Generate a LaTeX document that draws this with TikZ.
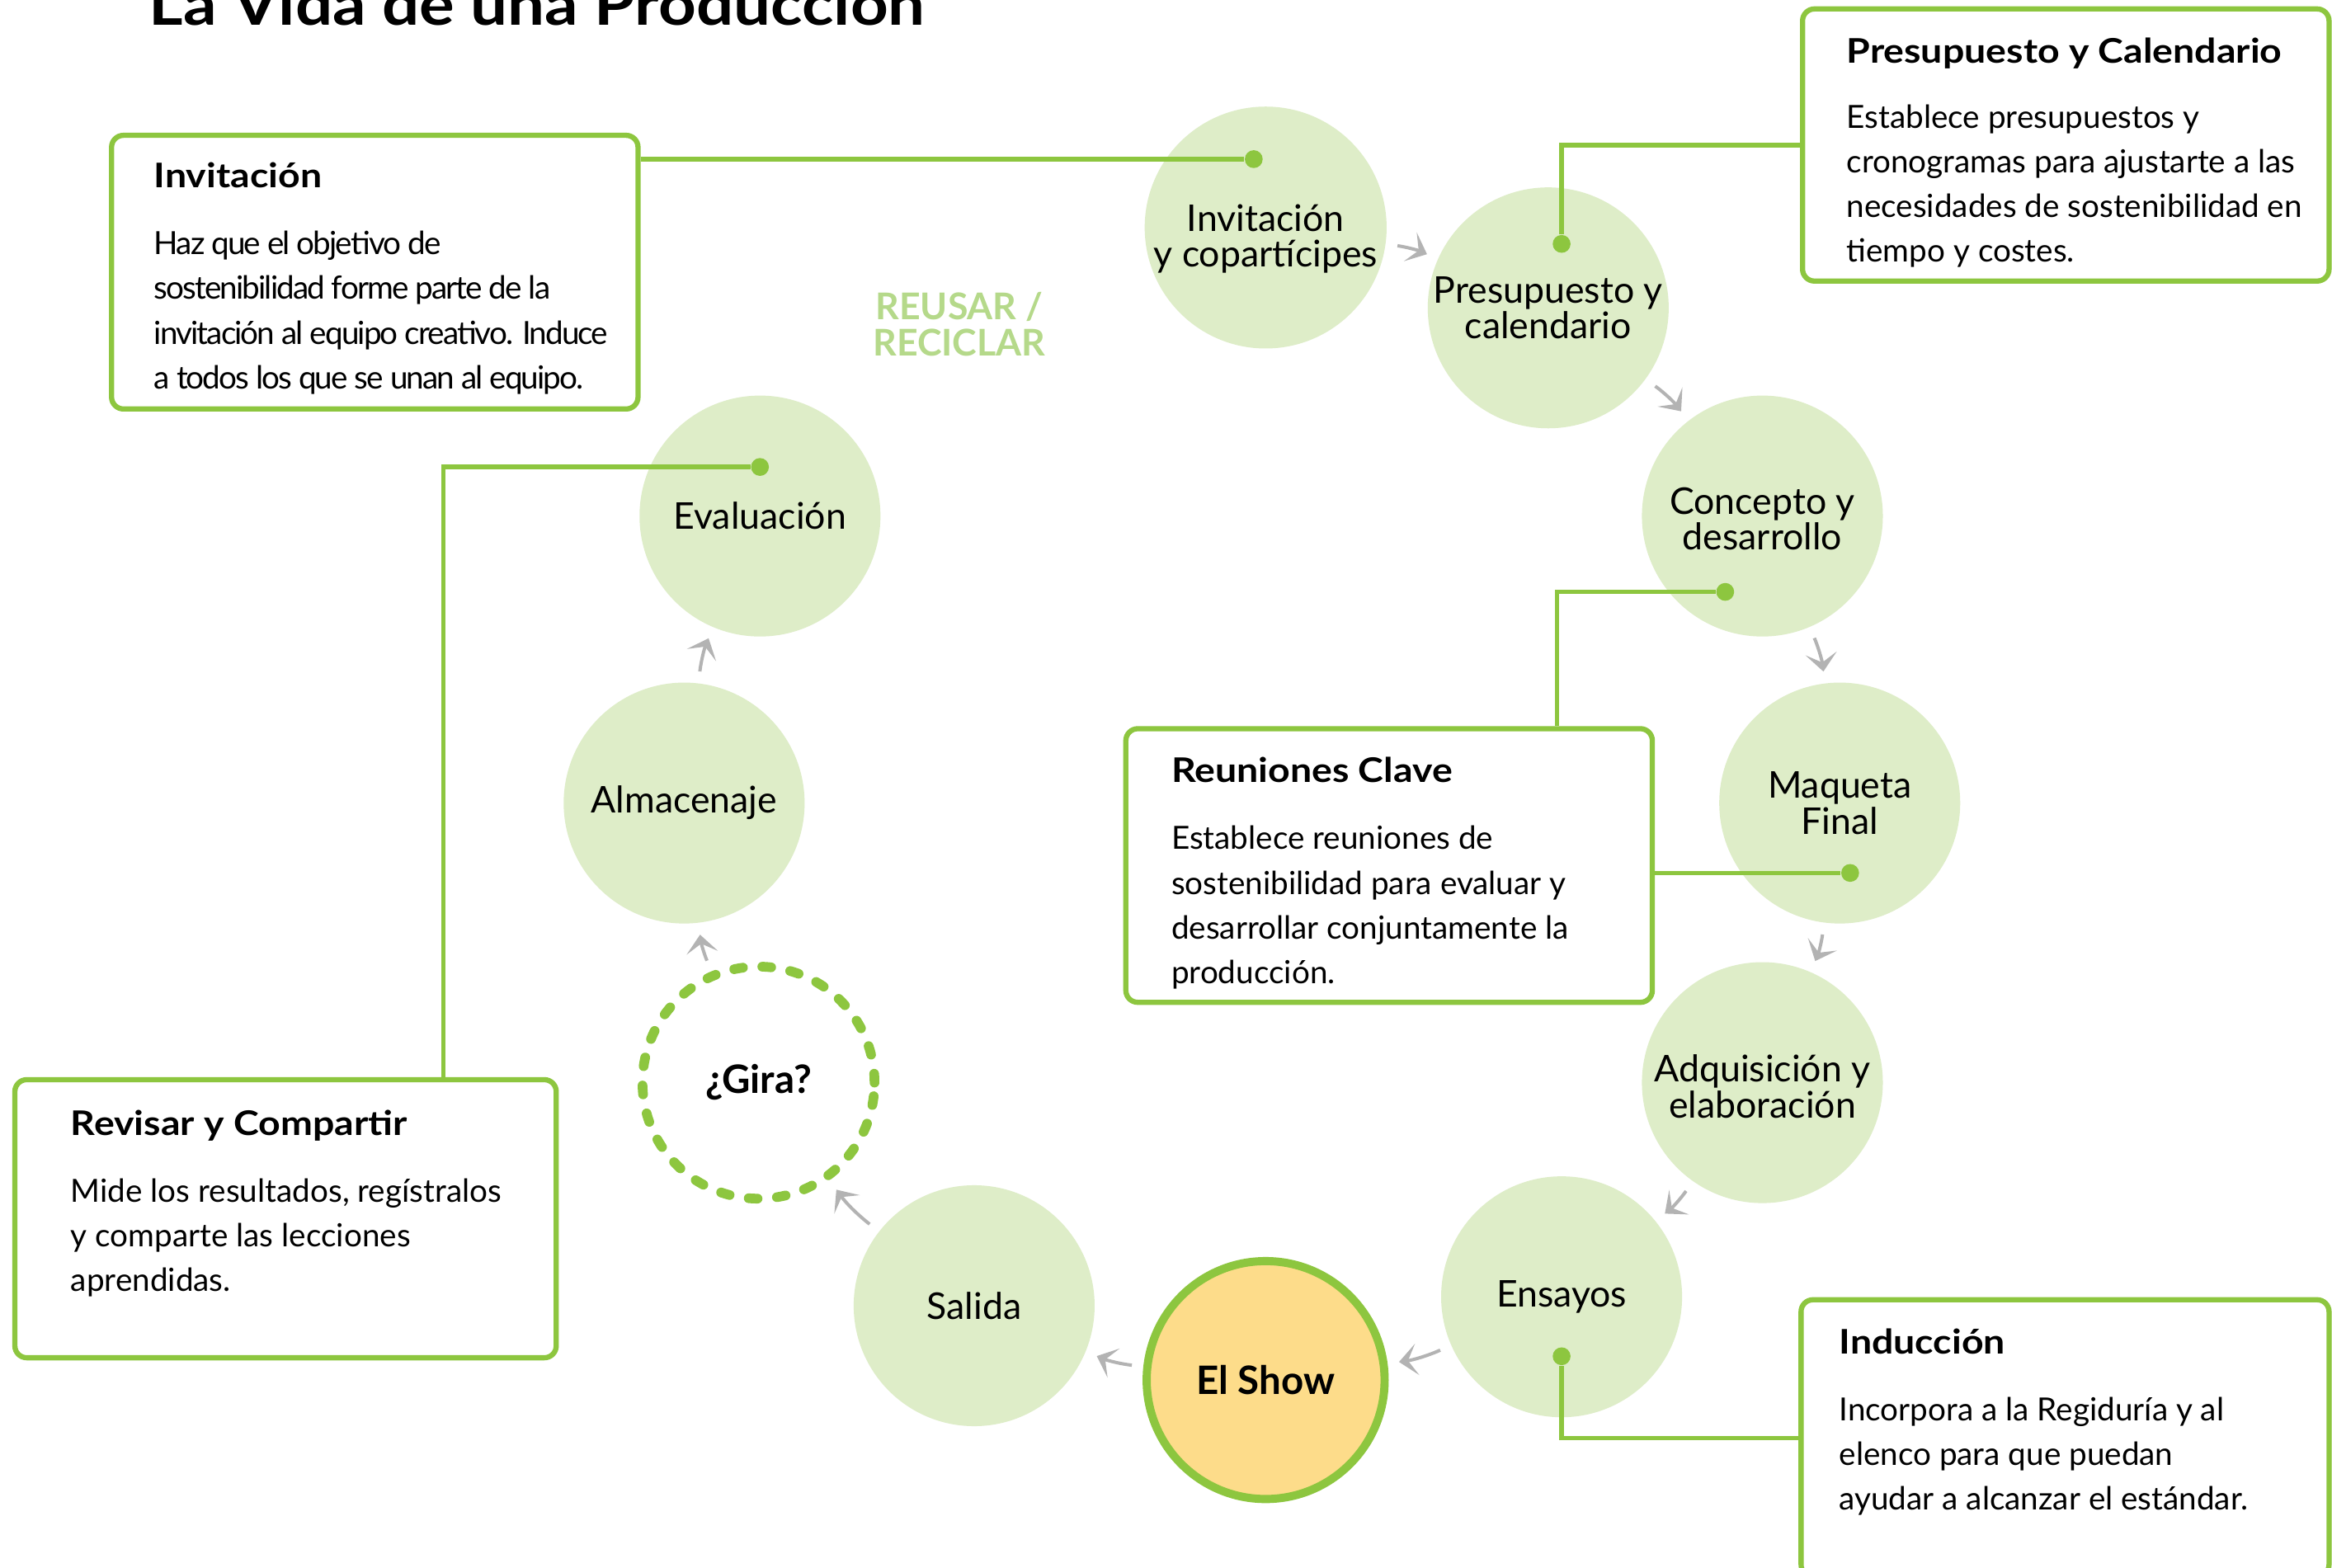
\documentclass[tikz,border=0pt]{standalone}
\usepackage{fontspec}
\setmainfont{Lato}
\newfontfamily\widefont[FakeStretch=1.13]{Lato}
\usetikzlibrary{arrows.meta,fit}

\newlength\pxu
\setlength\pxu{0.1803mm}
\newcommand{\boxlines}[1]{\begin{tabular}[t]{@{}l@{}}#1\end{tabular}}

\definecolor{leaf}{HTML}{8DC63F}
\definecolor{mint}{HTML}{DEEDC8}
\definecolor{butter}{HTML}{FDDC8A}
\definecolor{sage}{HTML}{B5D98A}
\definecolor{ash}{HTML}{B3B3B3}

\tikzset{
  stage/.style={circle, fill=mint, minimum size=162\pxu, inner sep=0pt, align=center,
    font=\fontsize{12.7}{12.3}\selectfont},
  showstage/.style={stage, fill=butter, draw=leaf, line width=5.5\pxu, minimum size=160\pxu,
    font=\fontsize{13.5}{13}\selectfont\bfseries},
  girastage/.style={stage, fill=none, draw=leaf, line width=6.5\pxu, minimum size=156\pxu,
    dash pattern=on 6\pxu off 13\pxu, line cap=round, font=\fontsize{13.5}{13}\selectfont\bfseries},
  linkdot/.style={circle, fill=leaf, minimum size=12\pxu, inner sep=0pt},
  boxlink/.style={draw=leaf, line width=3\pxu},
  infobox/.style={draw=leaf, line width=3.5\pxu, rounded corners=8\pxu, fill=white, inner sep=0pt},
  boxhead/.style={anchor=base west, inner sep=0pt, font=\widefont\fontsize{11.7}{13}\selectfont\bfseries},
  boxbody/.style={anchor=base west, inner sep=0pt, font=\fontsize{11}{15.4}\selectfont},
}

\begin{document}
\begin{tikzpicture}[x=0.1803mm, y=-0.1803mm]
  \useasboundingbox (0,0) rectangle (1568,1054);
  \fill[white] (0,0) rectangle (1568,1054);

  % title
  \node[anchor=base west, inner sep=0pt, font=\widefont\fontsize{20.1}{22}\selectfont\bfseries] (title) at (100,17) {La Vida de una Producción};
  \node[align=center, inner sep=0pt, text=sage, font=\fontsize{12.7}{12.3}\selectfont\bfseries] (reuse) at (645,218) {REUSAR /\\RECICLAR};

  % stages of the ring
  \begin{scope}[every node/.style={stage}]
    \node (inv) at (851,153) {\rule{0pt}{17pt}Invitación\\y copartícipes};
    \node (pre) at (1041,207) {Presupuesto y\\calendario};
    \node (con) at (1185,347) {\rule{0pt}{11pt}Concepto y\\desarrollo};
    \node (maq) at (1237,540) {Maqueta\\Final};
    \node (adq) at (1185,728) {\rule{0pt}{12pt}Adquisición y\\elaboración};
    \node (ens) at (1050,872) {Ensayos};
    \node (shw) [showstage] at (851,928) {El Show};
    \node (sal) at (655,878) {Salida};
    \node (gira) [girastage] at (510,728) {¿Gira?};
    \node (alm) at (460,540) {Almacenaje};
    \node (eva) at (511,347) {Evaluación};
  \end{scope}

  \begin{scope}[every edge/.style={draw=ash, line width=0.4mm, shorten <=1.4mm, shorten >=1.4mm,
      -{Stealth[length=2.2mm, width=3.8mm, inset=1.1mm]}}]
    \path (inv) edge[bend left=8] (pre);
    \path (pre) edge[bend left=8] (con);
    \path (con) edge[bend left=8] (maq);
    \path (maq) edge[bend left=8] (adq);
    \path (adq) edge[bend left=8] (ens);
    \path (ens) edge[bend left=8] (shw);
    \path (shw) edge[bend left=8] (sal);
    \path (sal) edge[bend left=8] (gira);
    \path (gira) edge[bend left=8] (alm);
    \path (alm) edge[bend left=8] (eva);
  \end{scope}

  % dots
  \node[linkdot] (dinv) at (843,107) {};
  \node[linkdot] (dpre) at (1050,164) {};
  \node[linkdot] (dcon) at (1160,398) {};
  \node[linkdot] (dmaq) at (1244,587) {};
  \node[linkdot] (deva) at (511,314) {};
  \node[linkdot] (dens) at (1050,912) {};

  % boxes
  \node[infobox, fit={(75,91) (429,275)}] (bxinv) {};
  \node[boxhead] (hdinv) at ([shift={(30,37)}]bxinv.north west) {Invitación};
  \node[boxbody] (bdinv) at ([shift={(30,82)}]bxinv.north west) {\addfontfeature{LetterSpace=-5}\boxlines{Haz que el objetivo de\\sostenibilidad forme parte de la\\invitación al equipo creativo. Induce\\a todos los que se unan al equipo.}};

  \node[infobox, fit={(1212,6) (1566,189)}] (bxpre) {};
  \node[boxhead] (hdpre) at ([shift={(31,38)}]bxpre.north west) {Presupuesto y Calendario};
  \node[boxbody] (bdpre) at ([shift={(31,82)}]bxpre.north west) {\boxlines{Establece presupuestos y\\cronogramas para ajustarte a las\\necesidades de sostenibilidad en\\tiempo y costes.}};

  \node[infobox, fit={(757,490) (1111,674)}] (bxreu) {};
  \node[boxhead] (hdreu) at ([shift={(32,38)}]bxreu.north west) {Reuniones Clave};
  \node[boxbody] (bdreu) at ([shift={(32,83)}]bxreu.north west) {\boxlines{Establece reuniones de\\sostenibilidad para evaluar y\\desarrollar conjuntamente la\\producción.}};

  \node[infobox, fit={(10,726) (374,913)}] (bxrev) {};
  \node[boxhead] (hdrev) at ([shift={(39,39)}]bxrev.north west) {Revisar y Compartir};
  \node[boxbody] (bdrev) at ([shift={(39,84)}]bxrev.north west) {\boxlines{Mide los resultados, regístralos\\y comparte las lecciones\\aprendidas.}};

  \node[infobox, fit={(1211,874) (1566,1060)}] (bxind) {};
  \node[boxhead] (hdind) at ([shift={(27,38)}]bxind.north west) {Inducción};
  \node[boxbody] (bdind) at ([shift={(27,83)}]bxind.north west) {\boxlines{Incorpora a la Regiduría y al\\elenco para que puedan\\ayudar a alcanzar el estándar.}};

  % links
  \draw[boxlink] (bxinv.east |- dinv) -- (dinv);
  \draw[boxlink] (bxpre.west) -| (dpre);
  \draw[boxlink] (bxreu.north east) ++(-66,0) |- (dcon);
  \draw[boxlink] (bxreu.east |- dmaq) -- (dmaq);
  \draw[boxlink] (bxrev.north west) ++(290,0) |- (deva);
  \draw[boxlink] (bxind.west) -| (dens);
\end{tikzpicture}
\end{document}
